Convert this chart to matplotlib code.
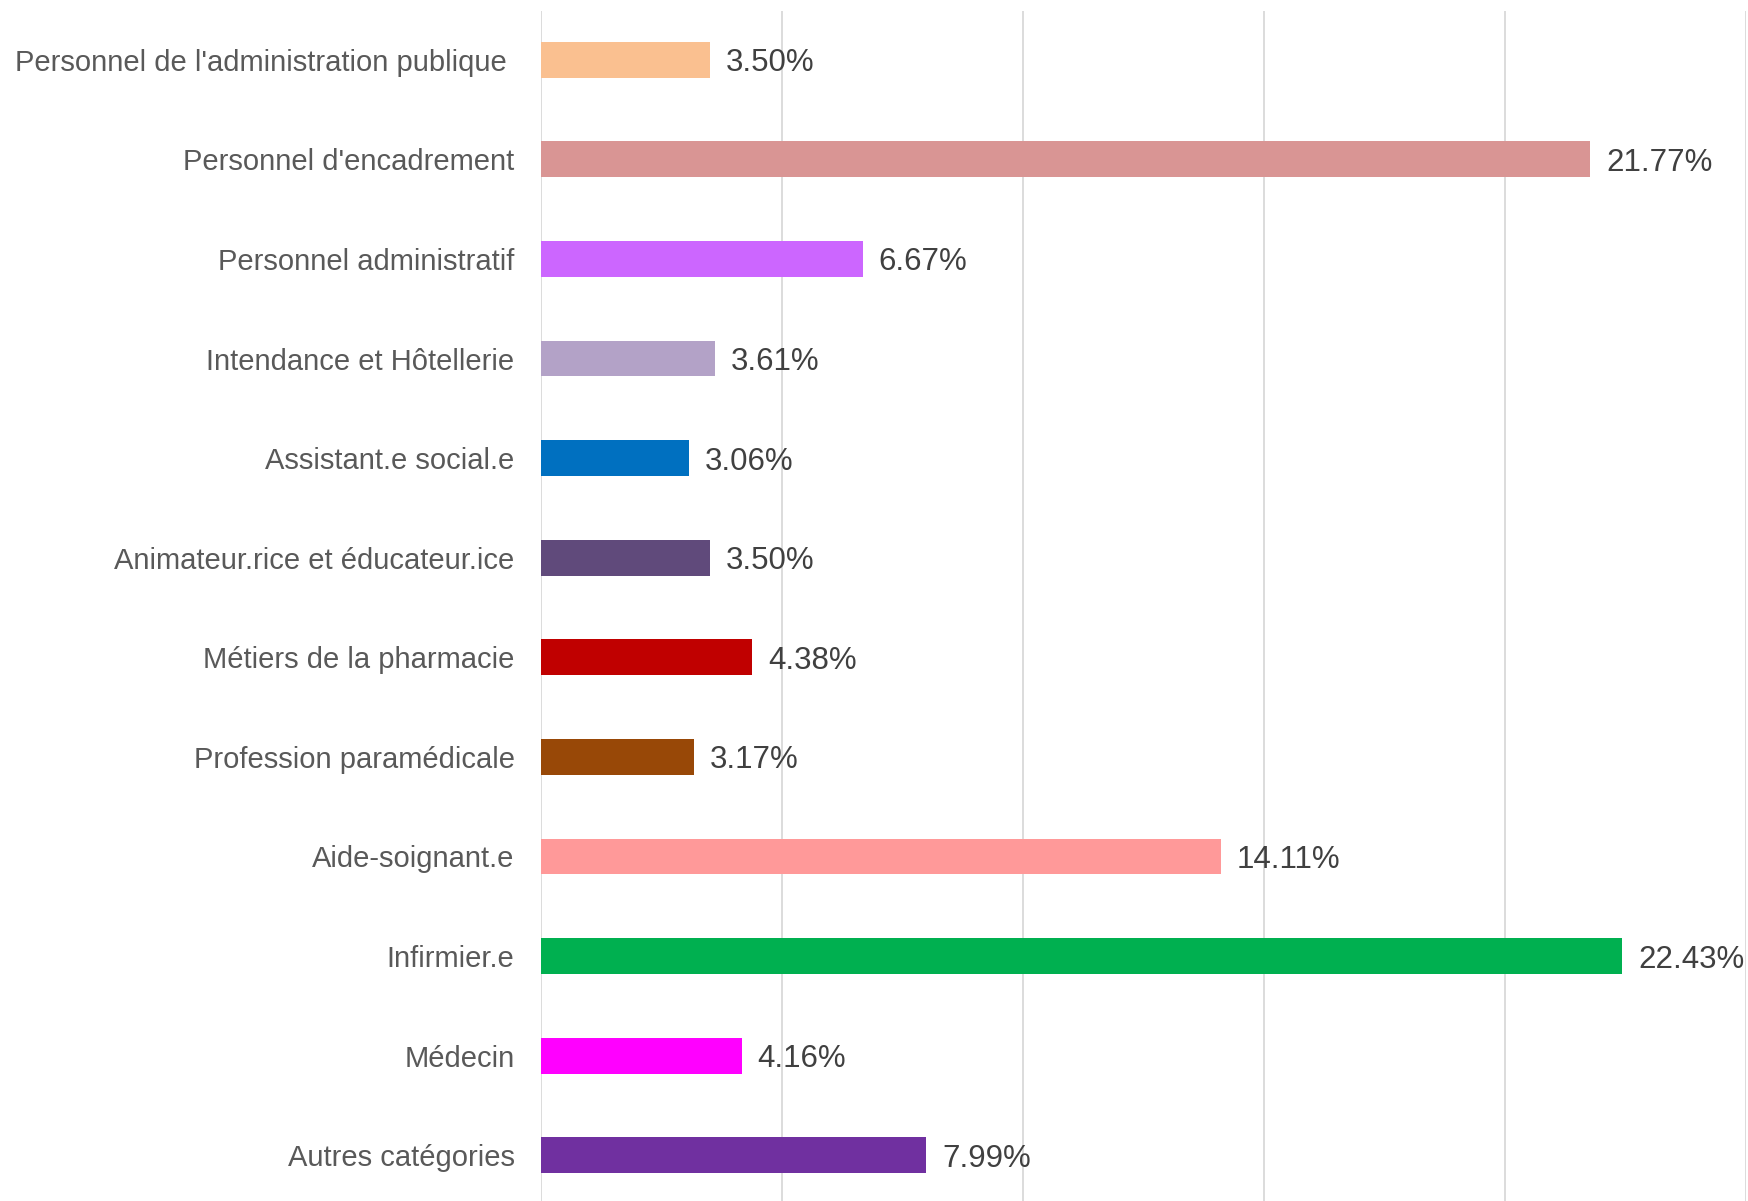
import matplotlib.pyplot as plt

categories = ["Personnel de l'administration publique ", "Personnel d'encadrement",
              "Personnel administratif", "Intendance et Hôtellerie",
              "Assistant.e social.e", "Animateur.rice et éducateur.ice",
              "Métiers de la pharmacie", "Profession paramédicale",
              "Aide-soignant.e", "Infirmier.e", "Médecin", "Autres catégories"]
values = [3.50, 21.77, 6.67, 3.61, 3.06, 3.50, 4.38, 3.17, 14.11, 22.43, 4.16, 7.99]
colors = ["#FAC090", "#D99594", "#CC66FF", "#B3A2C7", "#0070C0", "#604A7B",
          "#C00000", "#984807", "#FF9999", "#00B050", "#FF00FF", "#7030A0"]

plt.rcParams['font.family'] = ['Liberation Sans', 'DejaVu Sans']

fig = plt.figure(figsize=(17.48, 12.01), dpi=100)
ax = fig.add_axes([0.3095, 0.0, 0.6894, 0.9908])

y = list(range(len(categories)))
ax.barh(y, values, height=0.36, color=colors, zorder=3)
for yi, v in zip(y, values):
    ax.text(v + 0.33, yi + 0.035, f"{v:.2f}%", va='center', ha='left',
            fontsize=22.5, color='#404040', zorder=4)

ax.set_xlim(0, 25)
ax.set_ylim(11.46, -0.49)
ax.set_xticks([0, 5, 10, 15, 20, 25])
ax.set_xticklabels([])
ax.tick_params(axis='x', length=0)
ax.set_yticks(y)
ax.set_yticklabels(categories, fontsize=21, color='#595959')
ax.tick_params(axis='y', length=0, pad=19)
ax.grid(axis='x', color='#D9D9D9', linewidth=1.3, zorder=0)
for s in ax.spines.values():
    s.set_visible(False)

fig.savefig('out.png', dpi=100)
